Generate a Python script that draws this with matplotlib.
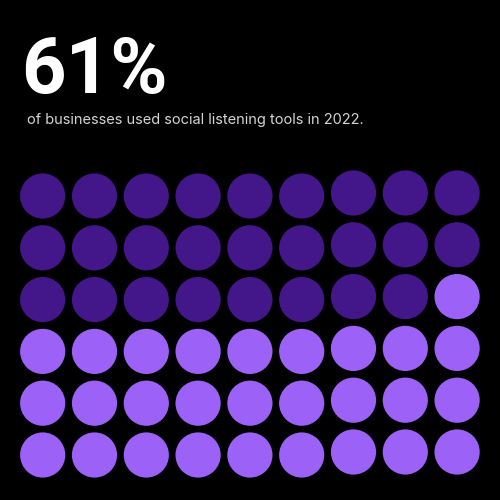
import matplotlib.pyplot as plt
from matplotlib.patches import Circle

# chart values
headline = "61%"
subtitle = "of businesses used social listening tools in 2022."
n_rows = 6
n_cols = 9
n_dark = 26          # dots drawn in the dark shade (filled row-wise)

dark_color = "#43168a"
light_color = "#9c61f7"

fig = plt.figure(figsize=(5, 5), dpi=100, facecolor="black")
ax = fig.add_axes([0, 0, 1, 1])
ax.set_facecolor("black")
ax.set_xlim(0, 500)
ax.set_ylim(500, 0)
ax.set_aspect("equal")
ax.axis("off")

# dot grid
x0, y0, step, r = 42.7, 196.0, 51.8, 22.6
for i in range(n_rows * n_cols):
    row, col = divmod(i, n_cols)
    dy = -3 if col >= 6 else 0   # right block sits a touch higher in the original
    color = dark_color if i < n_dark else light_color
    ax.add_patch(Circle((x0 + col * step, y0 + row * step + dy), r,
                        facecolor=color, edgecolor="none"))

ax.text(21, 93, headline, color="white", fontsize=56, fontweight="bold",
        family="Roboto", ha="left", va="baseline")
ax.text(27, 124, subtitle, color="#d4d4d4", fontsize=10.5,
        family="Inter", ha="left", va="baseline")

fig.savefig("out.png", dpi=100, facecolor="black")
